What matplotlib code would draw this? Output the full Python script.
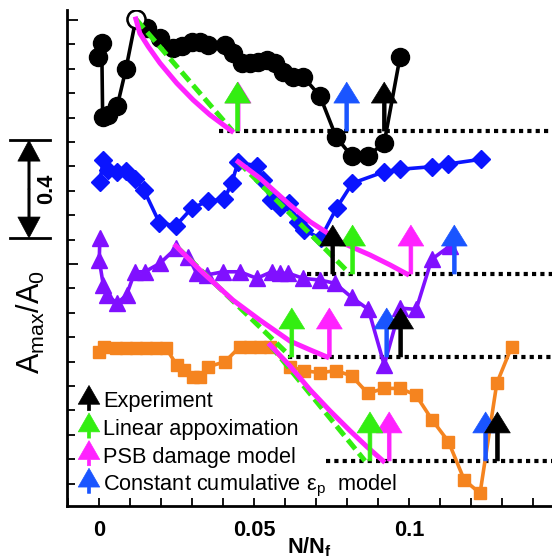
import numpy as np
import matplotlib
matplotlib.use("Agg")
import matplotlib.pyplot as plt
import matplotlib.transforms as mtransforms
from matplotlib.ticker import MultipleLocator

plt.rcParams['font.family'] = ['Liberation Sans', 'DejaVu Sans']
plt.rcParams['mathtext.fontset'] = 'custom'
plt.rcParams['mathtext.rm'] = 'Liberation Sans'
plt.rcParams['mathtext.it'] = 'Liberation Sans:italic'
plt.rcParams['mathtext.bf'] = 'Liberation Sans:bold'

# measured curves (normalised amplitude, offset per specimen)
black_x = [-0.0002, 0.0009, 0.0012, 0.0030, 0.0059, 0.0087, 0.0119, 0.0154, 0.0197, 0.0240,
           0.0267, 0.0299, 0.0326, 0.0353, 0.0406, 0.0433, 0.0460, 0.0487, 0.0514, 0.0541,
           0.0568, 0.0595, 0.0627, 0.0659, 0.0713, 0.0765, 0.0815, 0.0867, 0.0920, 0.0971]
black_y = [1.849, 1.904, 1.601, 1.610, 1.647, 1.799, 2.004, 1.966, 1.925, 1.884,
           1.893, 1.911, 1.911, 1.897, 1.897, 1.863, 1.822, 1.822, 1.829, 1.836,
           1.822, 1.788, 1.767, 1.767, 1.688, 1.520, 1.442, 1.442, 1.497, 1.849]

blue_x = [0.0003, 0.0014, 0.0030, 0.0057, 0.0087, 0.0116, 0.0145, 0.0195, 0.0247, 0.0299,
          0.0351, 0.0404, 0.0428, 0.0449, 0.0509, 0.0530, 0.0554, 0.0584, 0.0614, 0.0643,
          0.0661, 0.0715, 0.0767, 0.0817, 0.0920, 0.0971, 0.1075, 0.1127, 0.1231]
blue_y = [1.337, 1.426, 1.385, 1.378, 1.382, 1.347, 1.303, 1.169, 1.156, 1.228,
          1.258, 1.265, 1.331, 1.419, 1.401, 1.344, 1.262, 1.235, 1.249, 1.173,
          1.139, 1.105, 1.231, 1.331, 1.378, 1.388, 1.399, 1.410, 1.429]

purple_x = [0.0003, 0.0001, 0.0014, 0.0025, 0.0059, 0.0089, 0.0116, 0.0148, 0.0197, 0.0248,
            0.0288, 0.0315, 0.0347, 0.0401, 0.0455, 0.0509, 0.0557, 0.0584, 0.0611, 0.0659,
            0.0713, 0.0761, 0.0815, 0.0869, 0.0920, 0.0971, 0.1023, 0.1073, 0.1132]
purple_y = [1.105, 1.016, 0.914, 0.873, 0.839, 0.873, 0.968, 0.968, 1.003, 1.064,
            1.030, 0.962, 0.955, 0.968, 0.968, 0.941, 0.968, 0.962, 0.962, 0.941,
            0.934, 0.921, 0.863, 0.814, 0.586, 0.819, 0.814, 1.019, 1.074]

orange_x = [0.0001, 0.0016, 0.0055, 0.0087, 0.0119, 0.0152, 0.0184, 0.0216, 0.0251, 0.0274,
            0.0304, 0.0326, 0.0353, 0.0406, 0.0455, 0.0487, 0.0519, 0.0552, 0.0616, 0.0661,
            0.0713, 0.0765, 0.0815, 0.0867, 0.0920, 0.0971, 0.1022, 0.1075, 0.1127, 0.1178,
            0.1229, 0.1283, 0.1331]
orange_y = [0.639, 0.660, 0.656, 0.656, 0.656, 0.656, 0.656, 0.656, 0.586, 0.565,
            0.538, 0.538, 0.579, 0.599, 0.661, 0.661, 0.661, 0.661, 0.579, 0.563,
            0.554, 0.563, 0.541, 0.470, 0.490, 0.490, 0.463, 0.360, 0.272, 0.115,
            0.060, 0.511, 0.661]

# failure thresholds (dotted lines)
base_y = [1.545, 0.959, 0.619, 0.193]
base_x0 = [0.0387, 0.0670, 0.0610, 0.0732]

# linear approximation (start, end)
lin_x = [[0.0119, 0.0431], [0.0449, 0.0810], [0.0248, 0.0619], [0.0552, 0.0858]]
lin_y = [[2.004, 1.545], [1.419, 0.959], [1.074, 0.619], [0.668, 0.193]]

# PSB damage model curves
psb_x = [[0.0119, 0.0132, 0.0159, 0.0197, 0.0251, 0.0304, 0.0358, 0.0428],
         [0.0449, 0.0519, 0.0616, 0.0681, 0.0788, 0.0874, 0.0939, 0.0993],
         [0.0248, 0.0326, 0.0432, 0.0519, 0.0616, 0.0681, 0.0735],
         [0.0552, 0.0616, 0.0681, 0.0745, 0.0810, 0.0865, 0.0916]]
psb_y = [[2.004, 1.945, 1.891, 1.823, 1.741, 1.672, 1.611, 1.545],
         [1.419, 1.352, 1.242, 1.173, 1.085, 1.037, 0.996, 0.959],
         [1.074, 0.975, 0.852, 0.770, 0.684, 0.648, 0.619],
         [0.668, 0.582, 0.484, 0.398, 0.316, 0.250, 0.193]]

# predicted / observed failure positions (N/Nf)
arrow_psb = [0.0449, 0.1006, 0.0743, 0.0936]
arrow_lin = [0.0447, 0.0818, 0.0622, 0.0874]
arrow_const = [0.0799, 0.1146, 0.0928, 0.1247]
arrow_exp = [0.0920, 0.0754, 0.0973, 0.1285]

legend_labels = ['Experiment', 'Linear appoximation', 'PSB damage model',
                 'Constant cumulative ε$_\\mathregular{p}$  model']

c_green = '#33ee11'
c_mag = '#ff22ff'
c_arrow_blue = '#1a55ff'
arrow_colors = ['black', c_green, c_mag, c_arrow_blue]

W, H = 552, 559
fig = plt.figure(figsize=(W / 100, H / 100), dpi=100)
ax = fig.add_axes([67 / W, 53 / H, 485 / W, 496 / H])

series = [(black_x, black_y, 'black', 'o', 13),
          (blue_x, blue_y, '#0a14ff', 'D', 9.5),
          (purple_x, purple_y, '#8010ff', '^', 11),
          (orange_x, orange_y, '#f5841f', 's', 8.5)]
for xs, ys, c, m, ms in series:
    ax.plot(xs, ys, '-', color=c, lw=2.6, marker=m, ms=ms, mec=c, mfc=c, zorder=3)
# hollow marker at the black peak
pk = int(np.argmax(black_y))
ax.plot(black_x[pk], black_y[pk], 'o', ms=13, mfc='white', mec='black', mew=1.8, zorder=4)

x_right = 0.1461
ax.hlines(base_y, base_x0, x_right, colors='black', lw=3, linestyles=(0, (1, 1)), zorder=2)

for i in range(4):
    ax.plot(lin_x[i], lin_y[i], color=c_green, lw=3.6, ls=(0, (2.4, 1.1)), zorder=5)
    ax.plot(psb_x[i], psb_y[i], color=c_mag, lw=3.6, zorder=5)


def up_arrow(x, y0, color, length=0.2):
    ax.annotate('', xy=(x, y0 + length), xytext=(x, y0),
                arrowprops=dict(arrowstyle='simple,head_length=1.5,head_width=1.85,tail_width=0.27',
                                mutation_scale=10, fc=color, ec=color, lw=0.5,
                                shrinkA=0, shrinkB=0), zorder=6)


for i in range(4):
    up_arrow(arrow_psb[i], base_y[i], c_mag)
    up_arrow(arrow_lin[i], base_y[i], c_green)
    up_arrow(arrow_const[i], base_y[i], c_arrow_blue)
    up_arrow(arrow_exp[i], base_y[i], 'black')

ax.set_xlim(-0.0103, x_right)
ax.set_ylim(0.008, 2.041)
ax.set_xticks([0, 0.05, 0.1])
ax.set_xticklabels(['0', '0.05', '0.1'], fontsize=15.7, fontweight='bold')
ax.xaxis.set_minor_locator(MultipleLocator(0.01))
ax.yaxis.set_major_locator(MultipleLocator(1.0))
ax.yaxis.set_minor_locator(MultipleLocator(0.1))
ax.set_yticklabels([])
ax.tick_params(axis='x', which='both', direction='in', length=6, width=1.3, pad=10)
ax.tick_params(axis='y', which='major', direction='in', length=8, width=1.3)
ax.tick_params(axis='y', which='minor', direction='in', length=6, width=1.3)
for s in ['top', 'right']:
    ax.spines[s].set_visible(False)
for s in ['left', 'bottom']:
    ax.spines[s].set_linewidth(2)
ax.set_xlabel(r'N/N$_\mathbf{f}$', fontsize=15.7, fontweight='bold', labelpad=-4)

# scale bar (0.4 in amplitude units)
trans = mtransforms.blended_transform_factory(fig.transFigure, ax.transData)
bar_y0, bar_len = 1.107, 0.4
for yb in (bar_y0, bar_y0 + bar_len):
    ax.plot([10 / W, 50 / W], [yb, yb], color='black', lw=2, transform=trans, clip_on=False)
mid = bar_y0 + bar_len / 2
for yb in (bar_y0, bar_y0 + bar_len):
    ax.annotate('', xy=(29 / W, yb), xytext=(29 / W, mid), xycoords=trans, textcoords=trans,
                arrowprops=dict(arrowstyle='simple,head_length=1.5,head_width=1.6,tail_width=0.16',
                                mutation_scale=10, fc='black', ec='black', lw=0.5,
                                shrinkA=0, shrinkB=0), annotation_clip=False)
ax.text(47 / W, mid, '0.4', transform=trans, rotation=90, ha='center', va='center',
        fontsize=15.7, fontweight='bold')

fig.text(31 / W, 1 - 322 / H, r'A$_\mathregular{max}$/A$_\mathregular{0}$', rotation=90,
         ha='center', va='center', fontsize=22)

# legend drawn by hand with arrow symbols
for i, (lab, col) in enumerate(zip(legend_labels, arrow_colors)):
    yb = 407.5 + 27.6 * i
    ax.annotate('', xy=(89 / W, 1 - (yb - 22) / H), xytext=(89 / W, 1 - (yb + 3) / H),
                xycoords='figure fraction', textcoords='figure fraction',
                arrowprops=dict(arrowstyle='simple,head_length=1.35,head_width=1.55,tail_width=0.22',
                                mutation_scale=10, fc=col, ec=col, lw=0.5, shrinkA=0, shrinkB=0))
    fig.text(103 / W, 1 - yb / H, lab, fontsize=15.7, ha='left', va='baseline')

fig.savefig('out.png', dpi=100)
